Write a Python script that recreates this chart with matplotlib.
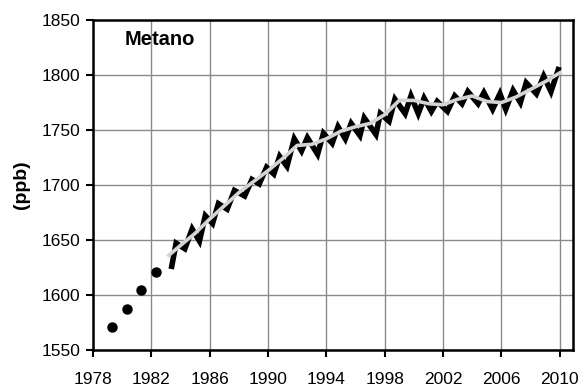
import matplotlib
matplotlib.use("Agg")
import matplotlib.pyplot as plt

plt.rcParams['font.family'] = ['Liberation Sans', 'DejaVu Sans']

# early flask measurements (annual)
early_years = [1979.3, 1980.3, 1981.3, 1982.3]
early_ppb = [1571, 1587, 1604, 1621]

month_t = [1983.4, 1983.7, 1984.3, 1984.8, 1985.3, 1985.7, 1986.2, 1986.6,
           1987.2, 1987.7, 1988.4, 1988.9, 1989.4, 1989.9, 1990.4, 1990.8,
           1991.3, 1991.8, 1992.3, 1992.7, 1993.4, 1993.8, 1994.4, 1994.8,
           1995.3, 1995.7, 1996.3, 1996.6, 1997.4, 1997.7, 1998.3, 1998.7,
           1999.4, 1999.8, 2000.3, 2000.7, 2001.2, 2001.6, 2002.3, 2002.8,
           2003.3, 2003.7, 2004.4, 2004.8, 2005.4, 2005.9, 2006.3, 2006.8,
           2007.3, 2007.7, 2008.4, 2008.9, 2009.4, 2009.9]
month_ppb = [1626, 1647, 1642, 1660, 1649, 1672, 1665, 1683,
             1678, 1695, 1690, 1705, 1701, 1716, 1710, 1726,
             1717, 1742, 1731, 1743, 1728, 1747, 1738, 1753,
             1742, 1756, 1745, 1761, 1746, 1765, 1758, 1778,
             1765, 1781, 1765, 1779, 1767, 1776, 1767, 1781,
             1774, 1785, 1774, 1784, 1769, 1783, 1769, 1786,
             1775, 1793, 1783, 1799, 1785, 1805]

# deseasonalised trend
trend_t = [1983.2, 1984, 1985, 1986, 1987, 1988, 1989, 1990, 1991, 1992,
           1993, 1994, 1995, 1996, 1997, 1998, 1999, 2000, 2001, 2002,
           2003, 2004, 2005, 2006, 2007, 2008, 2009, 2010]
trend_ppb = [1636, 1645, 1656, 1669, 1681, 1693, 1703, 1713, 1724, 1736,
             1737, 1742, 1749, 1753, 1756, 1764, 1777, 1777, 1774, 1773,
             1778, 1781, 1776, 1775, 1780, 1787, 1794, 1802]

xticks = list(range(1978, 2011, 4))
yticks = list(range(1550, 1851, 50))

fig = plt.figure(figsize=(5.81, 3.87), dpi=100)
ax = fig.add_axes([0.160, 0.096, 0.826, 0.852])

ax.plot(early_years, early_ppb, 'o', color='black', markersize=6.5, zorder=3)
ax.plot(month_t, month_ppb, color='black', linewidth=4, solid_joinstyle='miter',
        zorder=3)
ax.plot(trend_t, trend_ppb, color='#d4d4d4', linewidth=2.6, zorder=4)

ax.set_xlim(1978, 2010.9)
ax.set_ylim(1550, 1850)
ax.set_xticks(xticks)
ax.set_yticks(yticks)
ax.tick_params(labelsize=12.5, length=5, width=1.5, direction='out')
ax.tick_params(axis='x', pad=11)
ax.tick_params(axis='y', pad=4)
ax.grid(True, color='#8a8a8a', linewidth=1)
ax.set_axisbelow(True)
for s in ax.spines.values():
    s.set_linewidth(1.8)

ax.set_ylabel('(ppb)', fontsize=14, fontweight='bold', labelpad=8)
ax.text(0.067, 0.942, 'Metano', transform=ax.transAxes, fontsize=14.5,
        fontweight='bold', ha='left', va='center')

fig.savefig('out.png', dpi=100)
